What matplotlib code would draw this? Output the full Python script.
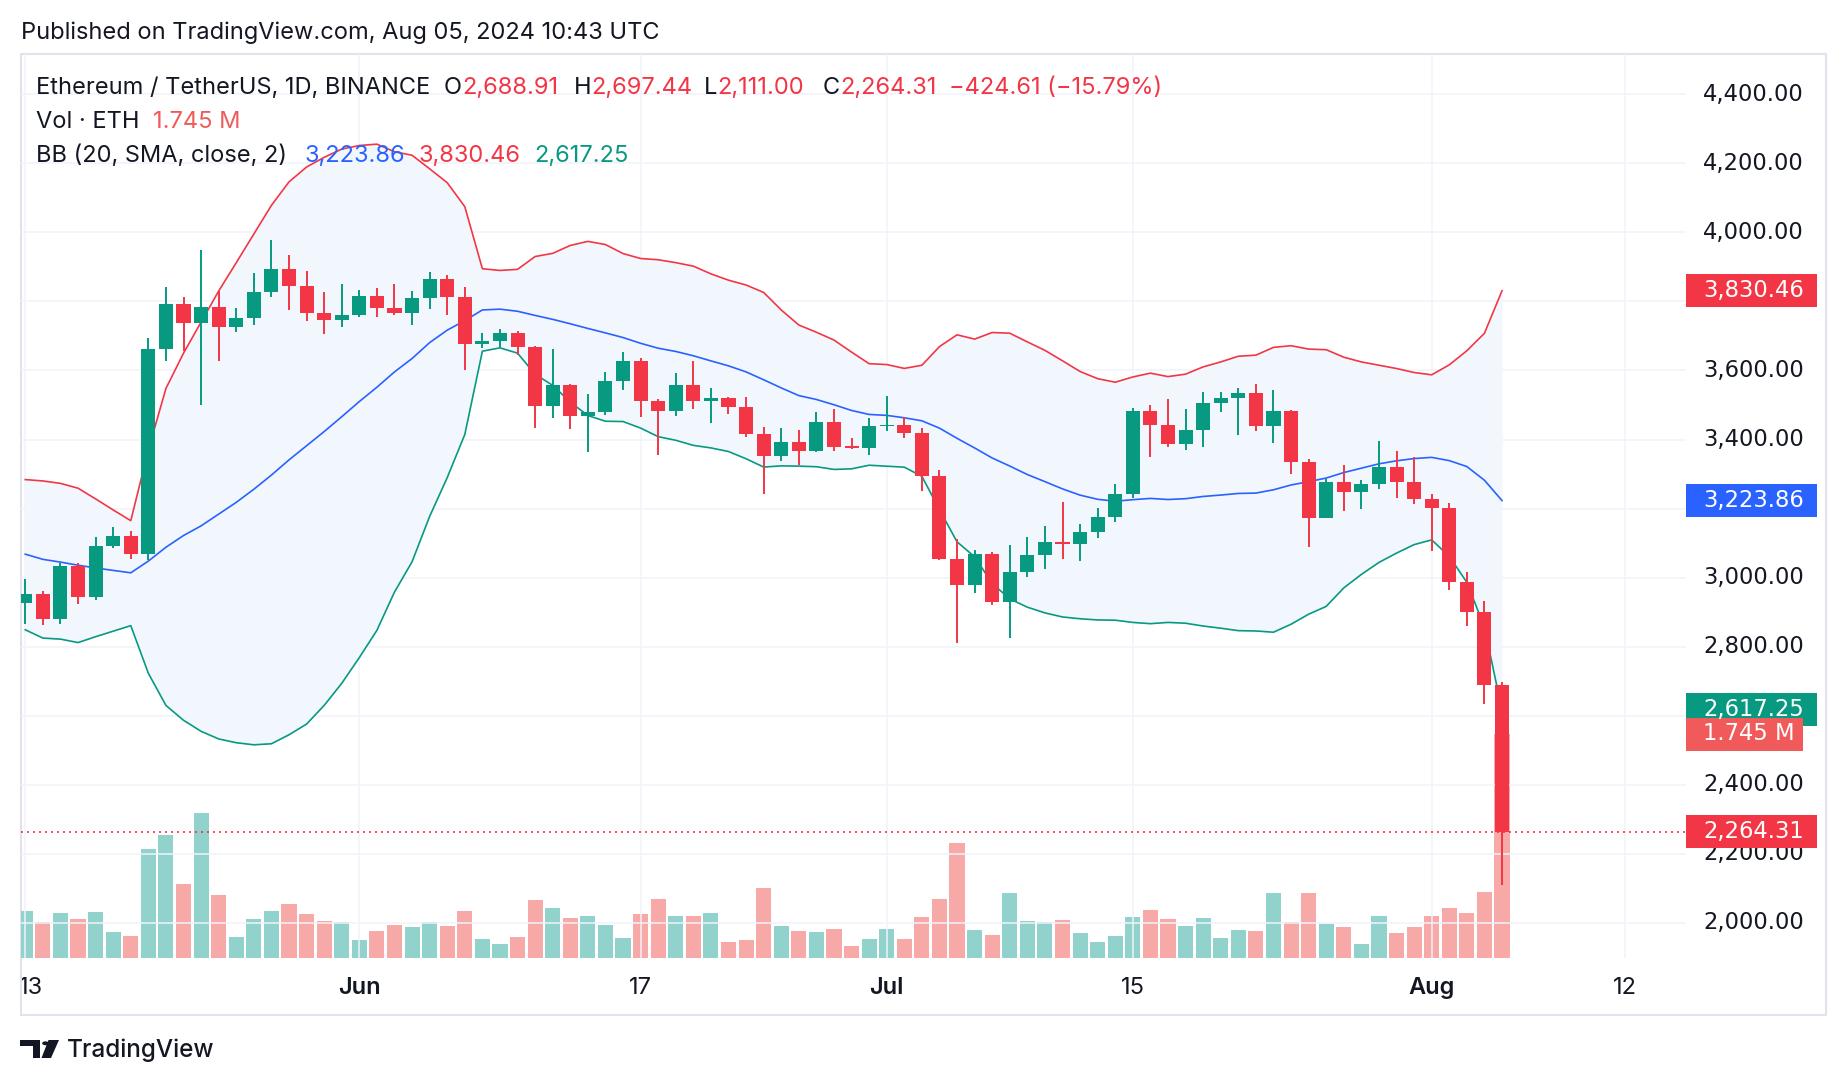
import numpy as np
import pandas as pd
import matplotlib
matplotlib.use("Agg")
import matplotlib.pyplot as plt
from matplotlib.patches import Rectangle, Polygon, Circle
from matplotlib.transforms import blended_transform_factory, Bbox

# ---------------- data ----------------
dates = pd.date_range("2024-05-13", "2024-08-05", freq="D")

opens = [2926, 2953, 2879, 3034, 2944, 3092, 3122, 3068, 3661, 3791,
         3737, 3785, 3725, 3751, 3826, 3895, 3845, 3767, 3747, 3761,
         3816, 3781, 3767, 3809, 3866, 3812, 3677, 3684, 3707, 3669,
         3496, 3558, 3468, 3481, 3568, 3626, 3512, 3482, 3559, 3512,
         3519, 3494, 3417, 3353, 3394, 3368, 3451, 3379, 3376, 3438,
         3443, 3418, 3294, 3055, 2979, 3068, 2929, 3017, 3067, 3102,
         3098, 3132, 3176, 3243, 3482, 3442, 3387, 3427, 3505, 3519,
         3536, 3440, 3484, 3334, 3172, 3276, 3248, 3270, 3319, 3276,
         3229, 3201, 2987, 2900, 2688.91]
highs = [2997, 2960, 3043, 3041, 3119, 3148, 3135, 3694, 3843, 3814,
         3950, 3829, 3780, 3883, 3977, 3933, 3889, 3826, 3851, 3833,
         3839, 3851, 3831, 3885, 3876, 3842, 3708, 3720, 3713, 3671,
         3661, 3562, 3533, 3595, 3654, 3637, 3518, 3592, 3626, 3548,
         3522, 3522, 3435, 3432, 3428, 3480, 3487, 3404, 3461, 3525,
         3464, 3432, 3313, 3111, 3081, 3074, 3095, 3117, 3151, 3218,
         3156, 3201, 3270, 3492, 3499, 3516, 3489, 3539, 3539, 3548,
         3562, 3542, 3486, 3343, 3287, 3326, 3283, 3397, 3366, 3350,
         3241, 3216, 3016, 2932, 2697.44]
lows = [2866, 2863, 2866, 2923, 2935, 3085, 3054, 3050, 3627, 3657,
        3501, 3627, 3711, 3731, 3814, 3775, 3744, 3706, 3725, 3755,
        3754, 3760, 3731, 3778, 3761, 3602, 3664, 3669, 3644, 3434,
        3462, 3431, 3363, 3472, 3543, 3465, 3356, 3468, 3488, 3447,
        3475, 3407, 3242, 3337, 3326, 3363, 3367, 3373, 3356, 3425,
        3404, 3252, 3050, 2811, 2956, 2922, 2825, 3003, 3026, 3055,
        3047, 3114, 3162, 3232, 3350, 3378, 3370, 3377, 3481, 3412,
        3425, 3391, 3300, 3088, 3172, 3193, 3199, 3258, 3232, 3214,
        3078, 2963, 2859, 2633, 2111.00]
closes = [2953, 2879, 3034, 2944, 3092, 3122, 3068, 3661, 3791, 3737,
          3785, 3725, 3751, 3826, 3895, 3845, 3767, 3747, 3761, 3816,
          3781, 3767, 3809, 3866, 3812, 3677, 3684, 3707, 3669, 3496,
          3558, 3468, 3481, 3568, 3626, 3512, 3482, 3559, 3512, 3519,
          3494, 3417, 3353, 3394, 3368, 3451, 3379, 3376, 3438, 3443,
          3418, 3294, 3055, 2979, 3068, 2929, 3017, 3067, 3102, 3098,
          3132, 3176, 3243, 3482, 3442, 3387, 3427, 3505, 3519, 3536,
          3440, 3484, 3334, 3172, 3276, 3248, 3270, 3319, 3276, 3229,
          3201, 2987, 2900, 2688.91, 2264.31]
volumes_m = [0.370, 0.278, 0.354, 0.301, 0.362, 0.206, 0.168, 0.850, 0.960, 0.579,
             1.132, 0.488, 0.160, 0.301, 0.370, 0.423, 0.339, 0.286, 0.278, 0.137,
             0.213, 0.255, 0.240, 0.278, 0.248, 0.370, 0.145, 0.107, 0.160, 0.450,
             0.392, 0.309, 0.324, 0.255, 0.152, 0.339, 0.457, 0.324, 0.331, 0.347,
             0.122, 0.137, 0.549, 0.248, 0.213, 0.206, 0.229, 0.091, 0.145, 0.229,
             0.145, 0.316, 0.457, 0.892, 0.221, 0.183, 0.503, 0.286, 0.278, 0.293,
             0.191, 0.122, 0.168, 0.316, 0.377, 0.301, 0.248, 0.309, 0.152, 0.221,
             0.213, 0.503, 0.278, 0.503, 0.263, 0.240, 0.107, 0.324, 0.198, 0.240,
             0.331, 0.392, 0.347, 0.518, 1.745]

# Bollinger band values for the first 19 days (window reaches before the visible range)
bb_upper_early = [3284, 3280, 3273, 3259, 3228, 3196, 3165, 3370, 3548, 3650,
                  3740, 3830, 3912, 3995, 4078, 4146, 4189, 4217, 4241]
bb_basis_early = [3068, 3053, 3045, 3036, 3028, 3021, 3014, 3048, 3088, 3122,
                  3150, 3184, 3218, 3256, 3297, 3341, 3382, 3423, 3466]
bb_lower_early = [2849, 2825, 2822, 2812, 2829, 2845, 2861, 2723, 2630, 2587,
                  2555, 2533, 2522, 2516, 2519, 2545, 2576, 2630, 2694]

# values shown in the legend / price-scale labels
bb_last_basis, bb_last_upper, bb_last_lower = 3223.86, 3830.46, 2617.25
change_abs, change_pct = -424.61, -15.79

price_ticks = [2000, 2200, 2400, 2600, 2800, 3000, 3200, 3400, 3600, 3800, 4000, 4200, 4400]
hidden_ticks = [2600, 3200, 3800]   # covered by the value boxes in the reference
time_ticks = [("2024-05-13", "13", False), ("2024-06-01", "Jun", True),
              ("2024-06-17", "17", False), ("2024-07-01", "Jul", True),
              ("2024-07-15", "15", False), ("2024-08-01", "Aug", True),
              ("2024-08-12", "12", False)]

# ---------------- derived ----------------
o = np.array(opens, float); h = np.array(highs, float)
l = np.array(lows, float); c = np.array(closes, float)
v = np.array(volumes_m, float)
n = len(c)
x = np.arange(n)

s = pd.Series(c)
basis = s.rolling(20).mean().to_numpy()
sd = s.rolling(20).std(ddof=0).to_numpy()
upper = basis + 2 * sd
lower = basis - 2 * sd
k = len(bb_basis_early)
basis[:k] = bb_basis_early
upper[:k] = bb_upper_early
lower[:k] = bb_lower_early

GREEN = "#089981"; RED = "#f23645"; BLUE = "#2962ff"; TXT = "#131722"
GRID = "#f0f3fa"

# ---------------- figure ----------------
W, H = 1846, 1086
fig = plt.figure(figsize=(W / 100, H / 100), dpi=100)
fig.patch.set_facecolor("white")
def fx(px): return px / W
def fy(py): return 1 - py / H

PL, PR, PT, PB = 21, 1686, 54, 958
X0, DX = 25.3, 17.58   # pixel of first candle, pixel per day
ax2 = fig.add_axes([fx(PL), fy(PB), (PR - PL) / W, (PB - PT) / H])
ax = fig.add_axes([fx(PL), fy(PB), (PR - PL) / W, (PB - PT) / H], sharex=ax2)
ax.set_zorder(2); ax2.set_zorder(1)
ax.patch.set_visible(False)
for a in (ax, ax2):
    a.set_axis_off()
ax.set_xlim((PL - X0) / DX, (PR - X0) / DX)
py_per200 = 69.07
y2000 = 923.0
ytop = 2000 + (y2000 - PT) / py_per200 * 200
ybot = 2000 - (PB - y2000) / py_per200 * 200
ax.set_ylim(ybot, ytop)
vol_top_px = 734
ax2.set_ylim(0, v[-1] * (PB - PT) / (PB - vol_top_px))

# grid
for p in price_ticks:
    ax.axhline(p, color=GRID, lw=1.1, zorder=0)
def day_pos(dstr):
    return (pd.Timestamp(dstr) - dates[0]).days
for dstr, lab, bold in time_ticks:
    ax.axvline(day_pos(dstr), color=GRID, lw=1.1, zorder=0)

# volume
up = c >= o
vcol = np.where(up, "#92d2cc", "#f7a9a8")
ax2.bar(x, v, width=0.86, color=vcol, linewidth=0, zorder=2)

# bands
ax.fill_between(x, lower, upper, color="#f2f7fe", lw=0, zorder=1)
ax.plot(x, upper, color=RED, lw=1.2, zorder=3)
ax.plot(x, lower, color=GREEN, lw=1.2, zorder=3)
ax.plot(x, basis, color=BLUE, lw=1.2, zorder=3)

# candles
ccol = np.where(up, GREEN, RED)
ax.vlines(x, l, h, colors=ccol, lw=1.4, zorder=5)
body_lo = np.minimum(o, c)
body_h = np.maximum(np.abs(c - o), 4.0)
ax.bar(x, body_h, bottom=body_lo, width=0.8, color=ccol, linewidth=0, zorder=6)

# last price dotted line
ax.axhline(c[-1], color=RED, lw=1.2, linestyle=(0, (1.2, 2.4)), zorder=7)

# price axis labels
tr_p = blended_transform_factory(fig.transFigure, ax.transData)
tr_v = blended_transform_factory(fig.transFigure, ax2.transData)
AXFS = 16.3
for p in price_ticks:
    if p in hidden_ticks:
        continue
    ax.text(fx(1703), p, f"{p:,.2f}", transform=tr_p, ha="left", va="center",
            fontsize=AXFS, color=TXT, family="DejaVu Sans", clip_on=False, zorder=8)

box_h_price = 33 / py_per200 * 200
def price_box(val, color, label, right=1817, trans=tr_p, hh=box_h_price):
    ax.add_patch(Rectangle((fx(PR), val - hh / 2), fx(right) - fx(PR), hh,
                           transform=trans, facecolor=color, edgecolor="none",
                           clip_on=False, zorder=20))
    ax.text(fx(1703), val, label, transform=trans, ha="left", va="center",
            fontsize=AXFS, color="white", family="DejaVu Sans", clip_on=False, zorder=21)

price_box(bb_last_upper, RED, f"{bb_last_upper:,.2f}")
price_box(bb_last_basis, BLUE, f"{bb_last_basis:,.2f}")
price_box(bb_last_lower, GREEN, f"{bb_last_lower:,.2f}")
price_box(c[-1], RED, f"{c[-1]:,.2f}")
vol_hh = box_h_price / (ytop - ybot) * (ax2.get_ylim()[1])
price_box(v[-1], "#f05a5a", f"{v[-1]:.3f} M", right=1803, trans=tr_v, hh=vol_hh)

# time axis labels
tr_t = blended_transform_factory(ax.transData, fig.transFigure)
clipbox = Bbox.from_extents(PL + 1, 0, W, H)
for dstr, lab, bold in time_ticks:
    xpos = day_pos(dstr)
    if dstr == "2024-05-13":
        xpos = (31 - X0) / DX
    t = ax.text(xpos, fy(988), lab, transform=tr_t, ha="center", va="center",
                fontsize=17, color=TXT, family="Inter",
                fontweight="semibold" if bold else "normal", clip_on=False, zorder=8)
    if dstr == "2024-05-13":
        t.set_clip_on(True)
        t.set_clip_box(clipbox)

# frame
fig.add_artist(Rectangle((fx(PL), fy(1015)), (1826 - PL) / W, (1015 - PT) / H,
                         transform=fig.transFigure, fill=False, edgecolor="#e0e3eb", lw=1.5))

# header
fig.text(fx(21), fy(33), "Published on TradingView.com, Aug 05, 2024 10:43 UTC",
         fontsize=17, color=TXT, family="Inter", va="center", ha="left")

renderer = fig.canvas.get_renderer()
LFS = 17
def seq(xp, yp, pieces):
    for txt, colr in pieces:
        t = fig.text(fx(xp), fy(yp), txt, color=colr, va="center", ha="left",
                     fontsize=LFS, family="Inter")
        xp += t.get_window_extent(renderer=renderer).width
    return xp

seq(36, 88, [("Ethereum / TetherUS, 1D, BINANCE", TXT)])
seq(444, 88, [("O", TXT), (f"{o[-1]:,.2f}", RED)])
seq(574, 88, [("H", TXT), (f"{h[-1]:,.2f}", RED)])
seq(704, 88, [("L", TXT), (f"{l[-1]:,.2f}", RED)])
seq(823, 88, [("C", TXT), (f"{c[-1]:,.2f}", RED)])
seq(949, 88, [(f"\u2212{abs(change_abs):,.2f} (\u2212{abs(change_pct):.2f}%)", RED)])
seq(36, 122, [("Vol \u00b7 ETH", TXT)])
seq(153, 122, [(f"{v[-1]:.3f} M", "#f05a5a")])
seq(36, 156, [("BB (20, SMA, close, 2)", TXT)])
seq(304, 156, [(f"{bb_last_basis:,.2f}", BLUE)])
seq(419, 156, [(f"{bb_last_upper:,.2f}", RED)])
seq(534, 156, [(f"{bb_last_lower:,.2f}", GREEN)])

# TradingView logo + name
logo_T = Polygon([(fx(20), fy(1040)), (fx(40), fy(1040)), (fx(40), fy(1058)),
                  (fx(33.3), fy(1058)), (fx(33.3), fy(1046)), (fx(20), fy(1046))],
                 closed=True, transform=fig.transFigure, facecolor=TXT, edgecolor="none")
logo_slash = Polygon([(fx(48.5), fy(1040)), (fx(59), fy(1040)), (fx(51), fy(1058)),
                      (fx(41.5), fy(1058))], closed=True, transform=fig.transFigure,
                     facecolor=TXT, edgecolor="none")
fig.add_artist(logo_T); fig.add_artist(logo_slash)
fig.add_artist(Circle((fx(45.5), fy(1043.3)), 3.3 / W, transform=fig.transFigure,
                      facecolor=TXT, edgecolor="none"))
fig.text(fx(67), fy(1050), "TradingView", fontsize=17.5, color=TXT, family="Inter",
         va="center", ha="left", fontweight="medium")

fig.savefig("out.png", dpi=100, facecolor="white")
